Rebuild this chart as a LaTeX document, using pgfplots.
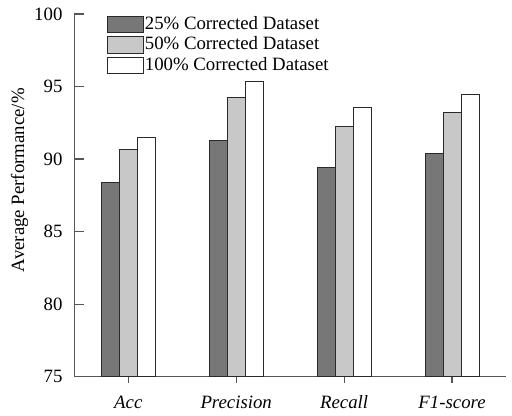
\documentclass[border=0pt]{standalone}
\usepackage{pgfplots}
\pgfplotsset{compat=1.18}
\usepackage{fontspec}
\setmainfont{Liberation Serif}
\definecolor{darkbar}{HTML}{777777}
\definecolor{lightbar}{HTML}{C8C8C8}
\definecolor{axgray}{HTML}{555555}
\definecolor{edge}{HTML}{2A2A2A}
\begin{document}
\begin{tikzpicture}[font=\fontsize{9.4}{11}\selectfont]
\begin{axis}[
  scale only axis, width=215.85pt, height=181.35pt,
  xmin=-0.5, xmax=3.5, ymin=75, ymax=100,
  axis x line*=bottom, axis y line*=left,
  axis line style={axgray, line width=0.6pt},
  tick align=inside,
  ybar, bar width=9pt,
  xtick={0,1,2,3},
  xticklabels={\textit{Acc},\textit{Precision},\textit{Recall},\textit{F1-score}},
  ytick={75,80,85,90,95,100},
  /pgf/number format/assume math mode=true,
  tick style={axgray, line width=0.6pt},
  xtick style={/pgfplots/major tick length=3pt},
  ytick style={/pgfplots/major tick length=5pt},
  yticklabel style={xshift=-2.4pt},
  xticklabel style={yshift=-1.8pt},
  ylabel={Average Performance/\%},
  ylabel style={at={(axis description cs:-0.127,0.542)}, anchor=center},
  legend style={draw=none, fill=none, at={(axis description cs:0.075,1.0)}, anchor=north west,
    inner sep=0pt, outer sep=0pt, row sep=0pt,
    nodes={inner sep=0.6pt, text height=6.9pt, text depth=2.2pt}},
  legend cell align=left,
  legend image code/.code={\draw[#1] (0pt,-4.15pt) rectangle (18pt,4.15pt);},
]
\addplot[fill=darkbar, draw=edge, line width=0.5pt, bar shift=-9pt] coordinates {(0,88.37) (1,91.26) (2,89.43) (3,90.37)};
\addplot[fill=lightbar, draw=edge, line width=0.5pt, bar shift=0pt] coordinates {(0,90.64) (1,94.23) (2,92.25) (3,93.22)};
\addplot[fill=white, draw=edge, line width=0.5pt, bar shift=9pt] coordinates {(0,91.49) (1,95.35) (2,93.56) (3,94.43)};
\legend{25\% Corrected Dataset, 50\% Corrected Dataset, 100\% Corrected Dataset}
\end{axis}
\path (current axis.south west) ++(-37.15pt,-14.65pt) rectangle ++(256pt,203pt);
\end{tikzpicture}
\end{document}
